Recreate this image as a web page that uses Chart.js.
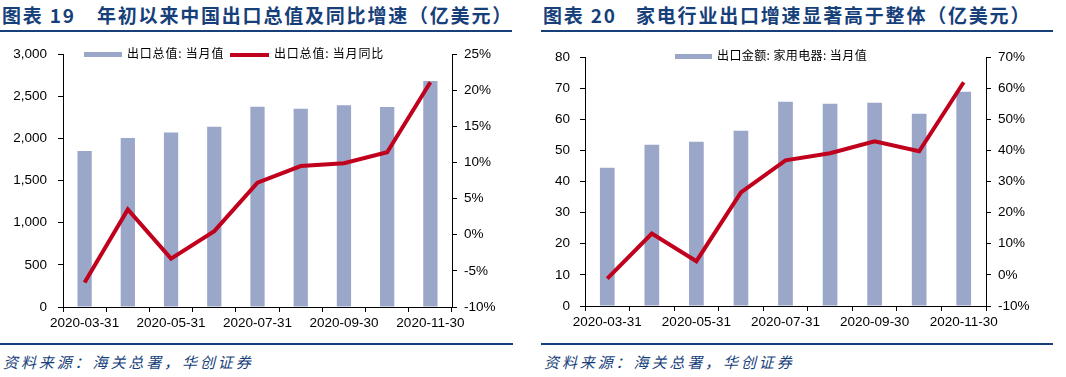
<!DOCTYPE html>
<html>
<head>
<meta charset="utf-8">
<script src="https://cdn.jsdelivr.net/npm/chart.js@4/dist/chart.umd.min.js"></script>
<style>
    body { margin: 0; background: #fff; }
    #wrap { position: relative; width: 1066px; height: 377px; overflow: hidden; font-family: "Noto Sans CJK SC", sans-serif; }
    .title { position: absolute; top: 2px; font-size: 19px; font-weight: 700; color: #173f7a; letter-spacing: 1.8px; white-space: nowrap; line-height: 26px; }
    .rule { position: absolute; height: 2px; background: #173f7a; }
    .source { position: absolute; top: 351px; font-size: 15px; font-style: italic; color: #173f7a; letter-spacing: 2.9px; white-space: nowrap; line-height: 22px; }
    .legend { position: absolute; font-size: 12px; color: #000; white-space: nowrap; line-height: 14px; }
    .legend i { display: inline-block; vertical-align: middle; margin-right: 5px; }
    canvas { position: absolute; }
</style>
</head>
<body>
<div id="wrap">
    <span class="title" style="left:2px">图表 19</span>
    <span class="title" style="left:97px">年初以来中国出口总值及同比增速（亿美元）</span>
    <div class="rule" style="left:0;width:512px;top:30px"></div>

    <span class="title" style="left:543px">图表 20</span>
    <span class="title" style="left:636px">家电行业出口增速显著高于整体（亿美元）</span>
    <div class="rule" style="left:541px;width:512px;top:30px"></div>

    <canvas id="chart19" width="512" height="300" style="left:0;top:40px"></canvas>
    <canvas id="chart20" width="520" height="300" style="left:520px;top:40px"></canvas>

    <div class="legend" style="left:84px;top:46px;letter-spacing:0.8px"><i style="width:38px;height:5px;background:#9aa7c9"></i>出口总值: 当月值</div>
    <div class="legend" style="left:230px;top:46px;letter-spacing:0.8px"><i style="width:39px;height:4px;background:#c0001c"></i>出口总值: 当月同比</div>
    <div class="legend" style="left:675px;top:48px;letter-spacing:0.4px"><i style="width:37px;height:5px;background:#9aa7c9"></i>出口金额: 家用电器: 当月值</div>

    <div class="rule" style="left:0;width:513px;top:343px"></div>
    <div class="rule" style="left:541px;width:512px;top:343px"></div>
    <span class="source" style="left:3px">资料来源：海关总署，华创证券</span>
    <span class="source" style="left:544px">资料来源：海关总署，华创证券</span>
</div>

<script>
// 数据
const categories = ['2020-03-31', '2020-04-30', '2020-05-31', '2020-06-30', '2020-07-31', '2020-08-31', '2020-09-30', '2020-10-31', '2020-11-30'];
const exportTotal = [1851, 2005, 2068, 2136, 2375, 2352, 2393, 2371, 2681];
const exportYoY = [-6.6, 3.5, -3.3, 0.5, 7.2, 9.5, 9.9, 11.4, 21.1];
const applianceExport = [44.4, 51.8, 52.8, 56.3, 65.6, 65.0, 65.3, 61.8, 68.8];
const applianceYoY = [-1.2, 13.3, 4.4, 26.5, 36.8, 39.1, 42.9, 39.7, 61.9];

const barColor = '#9aa7c9';
const lineColor = '#c0001c';
const tickFont = { family: '"Liberation Sans", Arial, sans-serif', size: 13.5 };

function axisY(position, min, max, step, fmt, width, pad) {
    return {
        position: position,
        min: min,
        max: max,
        afterFit: function(scale) {
            scale.width = width;
            // 不让刻度标签把绘图区往下挤
            scale.paddingTop = 0;
            scale.paddingBottom = 0;
        },
        grid: { drawOnChartArea: false, color: '#000', tickLength: 5 },
        border: { color: '#000' },
        ticks: { stepSize: step, color: '#000', font: tickFont, padding: pad, callback: fmt }
    };
}

function makeChart(id, bars, line, left, right, padTop, xHeight) {
    const ctx = document.getElementById(id).getContext('2d');
    return new Chart(ctx, {
        data: {
            labels: categories,
            datasets: [
                {
                    type: 'line',
                    data: line,
                    yAxisID: 'y1',
                    borderColor: lineColor,
                    borderWidth: 4,
                    pointRadius: 0,
                    tension: 0,
                    order: 0
                },
                {
                    type: 'bar',
                    data: bars,
                    yAxisID: 'y',
                    backgroundColor: barColor,
                    categoryPercentage: 1,
                    barPercentage: 0.33,
                    order: 1
                }
            ]
        },
        options: {
            responsive: false,
            animation: false,
            devicePixelRatio: 1,
            layout: { padding: { top: padTop, left: 0, right: 0, bottom: 0 } },
            plugins: { legend: { display: false }, tooltip: { enabled: false } },
            scales: {
                x: {
                    afterFit: function(scale) { scale.height = xHeight; },
                    grid: { drawOnChartArea: false, color: '#000', tickLength: 5, offset: true },
                    border: { color: '#000' },
                    ticks: {
                        autoSkip: false,
                        maxRotation: 0,
                        color: '#000',
                        font: tickFont,
                        padding: 3,
                        callback: function(v, i) { return i % 2 === 0 ? categories[i] : ''; }
                    }
                },
                y: left,
                y1: right
            }
        }
    });
}

const withComma = function(v) { return v.toLocaleString('en-US'); };
const pct = function(v) { return v + '%'; };

// 图表19
makeChart('chart19', exportTotal, exportYoY,
    axisY('left', 0, 3000, 500, withComma, 63, 11),
    axisY('right', -10, 25, 5, pct, 60, 7),
    14, 33);

// 图表20
makeChart('chart20', applianceExport, applianceYoY,
    axisY('left', 0, 80, 10, withComma, 65, 10),
    axisY('right', -10, 70, 10, pct, 54, 7),
    17, 34);
</script>
</body>
</html>
